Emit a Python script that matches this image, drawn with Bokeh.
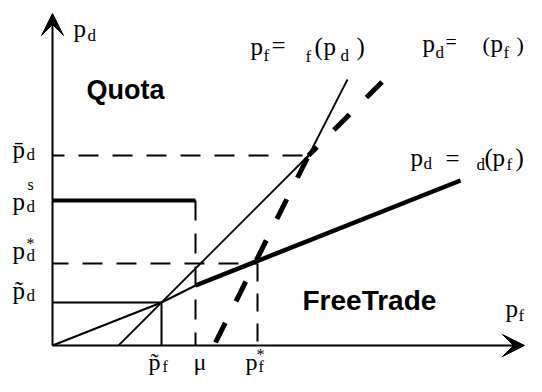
from bokeh.plotting import figure
from bokeh.models import Range1d, Arrow, VeeHead
from bokeh.core.properties import value
from bokeh.embed import file_html
from bokeh.resources import INLINE

# ---- key values of the diagram (diagram units) ----
pf_tilde, mu, pf_star, pf_bar = 10.9, 14.3, 20.5, 25.6
pd_tilde, pd_star, pd_s, pd_bar = 4.3, 8.2, 14.5, 19.0

# p_d = psi_d(p_f): thin up to mu, thick beyond
psi_d_thin_x = [0.0, pf_tilde, mu]
psi_d_thin_y = [0.0, pd_tilde, 6.0]
psi_d_thick_x = [mu, 40.8]
psi_d_thick_y = [6.0, 16.5]

# p_f = psi_f(p_d): thin line (flat part, then steep part)
psi_f_low_x = [6.6, pf_bar]
psi_f_low_y = [0.0, pd_bar]
psi_f_high_x = [25.1, 29.5]
psi_f_high_y = [18.0, 26.6]

# p_d = psi(p_f): thick dashed line
psi_low_x = [16.3, pf_bar]
psi_low_y = [0.3, pd_bar]
psi_high_x = [pf_bar, 34.6]
psi_high_y = [pd_bar, 28.0]

x_axis_end = 47.2
y_axis_end = 33.2

p = figure(width=526, height=376, output_backend="svg", toolbar_location=None,
           x_range=Range1d(-5.2, 47.4), y_range=Range1d(-3.1, 34.5),
           x_axis_type=None, y_axis_type=None, min_border=0,
           outline_line_color=None, background_fill_color="white",
           border_fill_color="white")
p.grid.visible = False

BLACK = "black"

# guide lines
p.line([0, pf_bar], [pd_bar, pd_bar], line_color=BLACK, line_width=2, line_dash="20 14", line_dash_offset=8)
p.line([0, pf_star], [pd_star, pd_star], line_color=BLACK, line_width=2, line_dash="20 14", line_dash_offset=4)
p.line([pf_star, pf_star], [pd_star, 0], line_color=BLACK, line_width=2, line_dash="18 12")
p.line([mu, mu], [pd_s, 0], line_color=BLACK, line_width=2, line_dash="20 13")
p.line([0, pf_tilde, pf_tilde], [pd_tilde, pd_tilde, 0], line_color=BLACK, line_width=2)
p.line([0, mu], [pd_s, pd_s], line_color=BLACK, line_width=4)

# curves
p.line(psi_d_thin_x, psi_d_thin_y, line_color=BLACK, line_width=2)
p.line(psi_d_thick_x, psi_d_thick_y, line_color=BLACK, line_width=4.5)
p.line(psi_f_low_x, psi_f_low_y, line_color=BLACK, line_width=1.8)
p.line(psi_f_high_x, psi_f_high_y, line_color=BLACK, line_width=1.8)
p.line(psi_low_x, psi_low_y, line_color=BLACK, line_width=5, line_dash="22 24")
p.line(psi_high_x, psi_high_y, line_color=BLACK, line_width=5, line_dash="22 24", line_dash_offset=10)

# axes with arrow heads
p.add_layout(Arrow(end=VeeHead(size=22, fill_color=BLACK, line_color=BLACK, line_width=1),
                   x_start=0, y_start=0, x_end=0, y_end=y_axis_end,
                   line_color=BLACK, line_width=2))
p.add_layout(Arrow(end=VeeHead(size=22, fill_color=BLACK, line_color=BLACK, line_width=1),
                   x_start=0, y_start=0, x_end=x_axis_end, y_end=0,
                   line_color=BLACK, line_width=2))

SERIF = "Liberation Serif"
SANS = "Liberation Sans"


def T(s, ix, iy, size, font=SERIF, bold=False):
    # iy is the wanted baseline; compensate the renderer's downward shift
    iy = iy - 0.35 * size
    p.text(x=[(ix - 52) / 10], y=[(345 - iy) / 10], text=[s],
           text_font=value(font), text_font_size=f"{size}px",
           text_font_style=value("bold" if bold else "normal"),
           text_baseline="alphabetic", text_align="left", text_color=BLACK)


# axis labels
T("p", 73, 37, 25); T("d", 87, 41, 17)
T("p", 505, 317, 25); T("f", 518, 321, 17)

# vertical-axis tick labels
T("p\u0304", 12, 158, 25); T("d", 26, 160, 17)
T("s", 27, 190, 16); T("p", 12, 210, 25); T("d", 26, 212, 17)
T("*", 26, 249, 16); T("p", 12, 259, 25); T("d", 26, 261, 17)
T("p\u0303", 12, 299, 25); T("d", 26, 301, 17)

# horizontal-axis tick labels
T("p\u0303", 148, 370, 24); T("f", 162, 372, 16)
T("\u03bc", 193, 370, 24)
T("*", 256, 360, 16); T("p", 245, 370, 24); T("f", 258, 372, 16)

# curve labels
T("p", 250, 55, 25); T("f", 263, 61, 17); T("=", 271, 54, 25)
T("f", 305, 62, 17); T("(", 314, 55, 25); T("p", 323, 55, 25); T("d", 340, 61, 17); T(")", 356, 55, 25)

T("p", 422, 52, 25); T("d", 435, 58, 17); T("=", 445, 48, 20)
T("(", 482, 52, 22); T("p", 490, 52, 25); T("f", 503, 58, 17); T(")", 516, 52, 22)

T("p", 410, 166, 25); T("d", 423, 169, 17); T("=", 445, 167, 25)
T("d", 476, 170, 17); T("(", 484, 166, 25); T("p", 492, 166, 25); T("f", 506, 170, 17); T(")", 515, 166, 25)

# regime labels
T("Quota", 86, 99, 27, SANS, True)
T("FreeTrade", 302, 310, 28, SANS, True)

open("out.html", "w").write(file_html(p, INLINE))
